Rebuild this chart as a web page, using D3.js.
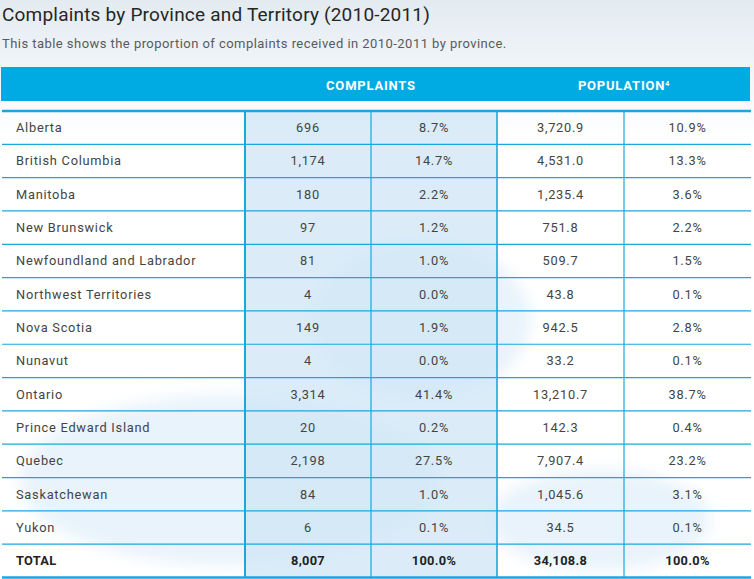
<!DOCTYPE html>
<html lang="en">
<head>
    <meta charset="UTF-8">
    <title>Complaints by Province and Territory</title>
    <script src="https://d3js.org/d3.v7.min.js"></script>
    <style>
        body{ margin:0; background:#fff; }
        svg{ display:block; }
        text{ font-family: Roboto, "Noto Sans", sans-serif; }
    </style>
</head>
<body>
    <script>
        // table values
        const provinces = ["Alberta","British Columbia","Manitoba","New Brunswick","Newfoundland and Labrador",
                           "Northwest Territories","Nova Scotia","Nunavut","Ontario","Prince Edward Island",
                           "Quebec","Saskatchewan","Yukon"]
        const complaints = [696,1174,180,97,81,4,149,4,3314,20,2198,84,6]
        const complaintPct = [8.7,14.7,2.2,1.2,1.0,0.0,1.9,0.0,41.4,0.2,27.5,1.0,0.1]
        const population = [3720.9,4531.0,1235.4,751.8,509.7,43.8,942.5,33.2,13210.7,142.3,7907.4,1045.6,34.5]
        const populationPct = [10.9,13.3,3.6,2.2,1.5,0.1,2.8,0.1,38.7,0.4,23.2,3.1,0.1]
        const totals = {label:"TOTAL", complaints:8007, complaintPct:100.0, population:34108.8, populationPct:100.0}
        const headers = ["COMPLAINTS","POPULATION"]

        const W = 754, H = 579
        const blue = "#00abe3", line = "#19a8de", ink = "#444"

        const svg = d3.select("body").append("svg").attr("width",W).attr("height",H)
        const defs = svg.append("defs")
        const grad = defs.append("linearGradient").attr("id","sky").attr("x1",0).attr("y1",0).attr("x2",0).attr("y2",1)
        grad.append("stop").attr("offset","0%").attr("stop-color","#e3ebf1")
        grad.append("stop").attr("offset","100%").attr("stop-color","#ffffff")
        svg.append("rect").attr("width",W).attr("height",140).attr("fill","url(#sky)")

        // faint map-ish watermark
        defs.append("filter").attr("id","soft").append("feGaussianBlur").attr("stdDeviation",8)
        const wm = svg.append("g").attr("fill","#e8f3fb").attr("filter","url(#soft)")
        wm.append("ellipse").attr("cx",230).attr("cy",480).attr("rx",210).attr("ry",85)
        wm.append("ellipse").attr("cx",420).attr("cy",320).attr("rx",110).attr("ry",80)
        wm.append("ellipse").attr("cx",600).attr("cy",520).attr("rx",110).attr("ry",50)

        // title + subtitle
        svg.append("text").attr("x",2).attr("y",21).attr("font-size",19).attr("fill","#262626").attr("letter-spacing",0.2)
            .text("Complaints by Province and Territory (2010-2011)")
        svg.append("text").attr("x",2).attr("y",48).attr("font-size",13).attr("fill","#5a5a5a").attr("letter-spacing",0.45)
            .text("This table shows the proportion of complaints received in 2010-2011 by province.")

        // column edges
        const colEdges = [2,245,371,497,624,751]
        const nRows = provinces.length + 1
        const y = d3.scaleLinear().domain([0,nRows]).range([111,577.5])
        const rowH = y(1) - y(0)

        // header bar
        svg.append("rect").attr("x",1).attr("y",67).attr("width",749).attr("height",34).attr("fill",blue)
        headers.forEach((h,i)=>{
            const cx = (colEdges[1+2*i] + colEdges[3+2*i]) / 2
            const t = svg.append("text").attr("x",cx).attr("y",90).attr("text-anchor","middle")
                .attr("font-size",13).attr("font-weight",700).attr("fill","#fff").attr("letter-spacing",0.8)
                .text(h)
            if(i===1) t.append("tspan").attr("font-size",7).attr("dy",-4).text("4")
        })

        // complaints column shading
        svg.append("rect").attr("x",colEdges[1]).attr("y",y(0)).attr("width",colEdges[3]-colEdges[1])
            .attr("height",y(nRows)-y(0)).attr("fill","#cfe6f6").attr("opacity",0.75)

        const fmtInt = d3.format(",")
        const fmtPop = d3.format(",.1f")
        const fmtPct = d=> d3.format(".1f")(d) + "%"

        const rows = provinces.map((p,i)=> [p, fmtInt(complaints[i]), fmtPct(complaintPct[i]), fmtPop(population[i]), fmtPct(populationPct[i])])
        rows.push([totals.label, fmtInt(totals.complaints), fmtPct(totals.complaintPct), fmtPop(totals.population), fmtPct(totals.populationPct)])

        const body = svg.append("g")
        rows.forEach((r,i)=>{
            const cy = y(i) + rowH/2 + 4.5
            const bold = i === rows.length-1
            r.forEach((v,j)=>{
                const tx = j===0 ? 16 : (colEdges[j] + colEdges[j+1]) / 2
                body.append("text")
                    .attr("x",tx).attr("y",cy)
                    .attr("text-anchor", j===0 ? "start" : "middle")
                    .attr("font-size",12.8).attr("letter-spacing", bold ? 0.3 : 0.75)
                    .attr("font-weight", bold ? 700 : 400)
                    .attr("fill", bold ? "#222" : ink)
                    .text(v)
            })
        })

        // row lines
        const lines = svg.append("g").attr("stroke",line)
        d3.range(1,nRows).forEach(i=>{
            lines.append("line").attr("x1",2).attr("x2",751).attr("y1",y(i)).attr("y2",y(i)).attr("stroke-width",1.2)
        })
        lines.append("line").attr("x1",2).attr("x2",751).attr("y1",y(0)).attr("y2",y(0)).attr("stroke-width",2.4)
        lines.append("line").attr("x1",2).attr("x2",751).attr("y1",y(nRows)).attr("y2",y(nRows)).attr("stroke-width",2.6)

        // column lines
        colEdges.slice(1,5).forEach((x,i)=>{
            lines.append("line").attr("x1",x).attr("x2",x).attr("y1",y(0)).attr("y2",y(nRows))
                .attr("stroke-width", i===0 ? 2 : (i===2 ? 1.6 : 1.2))
        })
    </script>
</body>
</html>
